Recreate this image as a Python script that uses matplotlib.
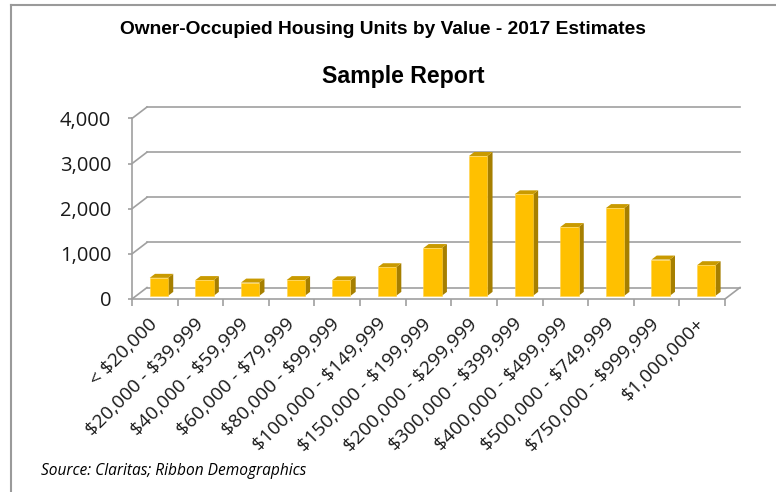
import matplotlib
matplotlib.use('Agg')
import matplotlib.pyplot as plt
from matplotlib.patches import Polygon
from matplotlib.lines import Line2D
import numpy as np

plt.rcParams['text.parse_math'] = False

categories = ['< $20,000', '$20,000 - $39,999', '$40,000 - $59,999', '$60,000 - $79,999',
              '$80,000 - $99,999', '$100,000 - $149,999', '$150,000 - $199,999',
              '$200,000 - $299,999', '$300,000 - $399,999', '$400,000 - $499,999',
              '$500,000 - $749,999', '$750,000 - $999,999', '$1,000,000+']
units = [400, 350, 295, 350, 345, 635, 1060, 3100, 2250, 1525, 1945, 805, 680]
y_ticks = [0, 1000, 2000, 3000, 4000]

# fake 3d: depth vector in data units
DX, DY = 0.329, 254
grid_col = '#a0a0a0'

fig = plt.figure(figsize=(7.76, 4.92), dpi=100)
ax = fig.add_axes([132 / 776, (492 - 299) / 492, 608 / 776, 192 / 492])
n = len(categories)
ax.set_xlim(-0.5, n - 0.5 + DX)
ax.set_ylim(0, max(y_ticks) + DY)

# back wall gridlines and left wall diagonals
for v in y_ticks:
    ax.plot([-0.5 + DX, n - 0.5 + DX], [v + DY, v + DY], color=grid_col, lw=1.2, zorder=1, clip_on=False)
    ax.plot([-0.5, -0.5 + DX], [v, v + DY], color=grid_col, lw=1.2, zorder=1, clip_on=False)
ax.plot([n - 0.5, n - 0.5 + DX], [0, DY], color=grid_col, lw=1.2, zorder=1, clip_on=False)

# bars
t0, t1 = 0.27, 0.62
bw = 0.4
for i, v in enumerate(units):
    x0 = i - bw / 2 + t0 * DX
    y0 = t0 * DY
    x1 = x0 + bw
    ddx = (t1 - t0) * DX
    ddy = (t1 - t0) * DY
    front = Polygon([(x0, y0), (x1, y0), (x1, y0 + v), (x0, y0 + v)], closed=True,
                    facecolor='#ffc000', edgecolor='#ffd34d', lw=0.4, zorder=3)
    side = Polygon([(x1, y0), (x1 + ddx, y0 + ddy), (x1 + ddx, y0 + v + ddy), (x1, y0 + v)],
                   closed=True, facecolor='#a67f00', edgecolor='none', zorder=3)
    top = Polygon([(x0, y0 + v), (x1, y0 + v), (x1 + ddx, y0 + v + ddy), (x0 + ddx, y0 + v + ddy)],
                  closed=True, facecolor='#c99a00', edgecolor='none', zorder=3)
    for p in (side, top, front):
        ax.add_patch(p)

for s in ['top', 'right']:
    ax.spines[s].set_visible(False)
ax.spines['left'].set_bounds(0, max(y_ticks))
ax.spines['bottom'].set_bounds(-0.5, n - 0.5)
for s in ['left', 'bottom']:
    ax.spines[s].set_color(grid_col)
    ax.spines[s].set_linewidth(1.2)
    ax.spines[s].set_zorder(4)

ax.set_yticks(y_ticks)
ax.set_yticklabels([f'{v:,}' for v in y_ticks], fontsize=14.5, family='Open Sans', color='#1a1a1a')
ax.tick_params(axis='y', length=3, width=1.2, color=grid_col, pad=12)

ax.set_xticks(np.arange(n + 1) - 0.5)
ax.set_xticklabels([])
ax.tick_params(axis='x', which='major', length=5, width=1.2, color=grid_col)
ax.set_xticks(np.arange(n), minor=True)
ax.set_xticklabels(categories, minor=True, fontsize=13.8, family='Open Sans', color='#1a1a1a',
                   rotation=45, ha='right', va='center', rotation_mode='anchor')
ax.tick_params(axis='x', which='minor', length=0, pad=16)

fig.text(383 / 776, 1 - 29 / 492, 'Owner-Occupied Housing Units by Value - 2017 Estimates',
         ha='center', va='center', fontsize=13.8, fontweight='bold', family='Liberation Sans')
fig.text(403 / 776, 1 - 77 / 492, 'Sample Report',
         ha='center', va='center', fontsize=16.7, fontweight='bold', family='Liberation Sans')
fig.text(41 / 776, 1 - 471 / 492, 'Source: Claritas; Ribbon Demographics',
         ha='left', va='center', fontsize=11.2, style='italic', family='Open Sans')

# outer frame (top and left edge only visible)
fig.add_artist(Line2D([11 / 776, 1], [1 - 5 / 492, 1 - 5 / 492], color='#9a9a9a', lw=1.5))
fig.add_artist(Line2D([11 / 776, 11 / 776], [0, 1 - 5 / 492], color='#9a9a9a', lw=1.5))

fig.savefig('out.png', dpi=100)
